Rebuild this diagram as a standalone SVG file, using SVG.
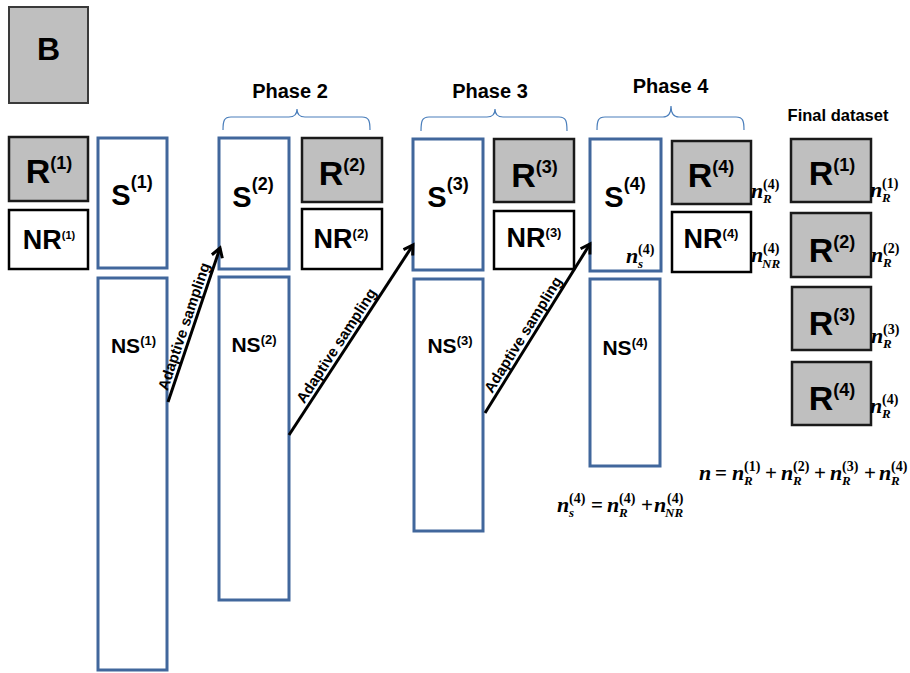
<svg xmlns="http://www.w3.org/2000/svg" width="910" height="673" viewBox="0 0 910 673">
  <style>
    .grey { fill: #bfbfbf; stroke: #1a1a1a; stroke-width: 2.5; }
    .white { fill: #ffffff; stroke: #000000; stroke-width: 2.5; }
    .panel { fill: #bfbfbf; stroke: #3a3a3a; stroke-width: 2; }
    .blue { fill: #ffffff; stroke: #41679c; stroke-width: 3; }
    .brace { fill: none; stroke: #4a7ebb; stroke-width: 1.2; }
    .lbl { font-family: "Liberation Sans", Arial, sans-serif; font-weight: bold; fill: #000; text-anchor: middle; }
    .big { font-size: 34px; }
    .s { font-size: 29px; }
    .nr { font-size: 27px; }
    .ns { font-size: 21px; }
    .head { font-size: 20px; }
    .arr { font-family: "Liberation Sans", Arial, sans-serif; font-weight: bold; font-size: 15px; fill: #000; }
    .mi { font-family: "Liberation Serif", "Times New Roman", serif; font-weight: bold; font-style: italic; font-size: 22px; fill: #000; }
    .mu { font-family: "Liberation Serif", "Times New Roman", serif; font-weight: bold; font-size: 21px; fill: #000; }
    .sp { font-family: "Liberation Serif", "Times New Roman", serif; font-weight: bold; font-size: 14px; fill: #000; }
    .sb { font-family: "Liberation Serif", "Times New Roman", serif; font-weight: bold; font-style: italic; font-size: 13px; fill: #000; }
    .conn { stroke: #000; stroke-width: 3; fill: none; marker-end: url(#head); }
  </style>
  <defs>
    <marker id="head" markerUnits="userSpaceOnUse" viewBox="-12 -8 16 16" markerWidth="16" markerHeight="16" refX="0" refY="0" orient="auto">
      <path d="M-9,-5.5 L0,0 L-9,5.5" fill="none" stroke="#000" stroke-width="3" stroke-linejoin="miter"/>
    </marker>
  </defs>

  <!-- panel letter -->
  <g id="panel-b">
    <rect class="panel" x="9" y="7" width="79" height="96"/>
    <text class="lbl" x="48.5" y="60" font-size="32">B</text>
  </g>

  <!-- phase 1 -->
  <g id="r1">
    <rect class="grey" x="9" y="137" width="79" height="64"/>
    <text class="lbl big" x="49" y="183">R<tspan font-size="18" dy="-14">(1)</tspan></text>
  </g>
  <g id="nr1">
    <rect class="white" x="9" y="210" width="79" height="59"/>
    <text class="lbl nr" x="49" y="249">NR<tspan font-size="11" dy="-10">(1)</tspan></text>
  </g>
  <g id="s1">
    <rect class="blue" x="98" y="138" width="69" height="130"/>
    <text class="lbl s" x="132" y="205">S<tspan font-size="18" dy="-17">(1)</tspan></text>
  </g>
  <g id="ns1">
    <rect class="blue" x="98" y="278" width="69" height="392"/>
    <text class="lbl ns" x="133.5" y="353">NS<tspan font-size="13" dy="-8.5">(1)</tspan></text>
  </g>

  <!-- phase 2 -->
  <g id="phase2">
    <text class="lbl head" x="290" y="98">Phase 2</text>
    <path class="brace" d="M223,130 C223,121 224,117 231,117 L289,117 C294,117 297,114 297,109 C297,114 300,117 305,117 L362,117 C369,117 370,121 370,130"/>
  </g>
  <g id="s2">
    <rect class="blue" x="219" y="138" width="70" height="131"/>
    <text class="lbl s" x="253" y="207">S<tspan font-size="18" dy="-17">(2)</tspan></text>
  </g>
  <g id="ns2">
    <rect class="blue" x="219" y="277" width="70" height="323"/>
    <text class="lbl ns" x="254" y="352">NS<tspan font-size="13" dy="-8.5">(2)</tspan></text>
  </g>
  <g id="r2">
    <rect class="grey" x="302" y="138" width="80" height="64"/>
    <text class="lbl big" x="342" y="185">R<tspan font-size="18" dy="-14">(2)</tspan></text>
  </g>
  <g id="nr2">
    <rect class="white" x="302" y="209" width="80" height="60"/>
    <text class="lbl nr" x="341" y="248">NR<tspan font-size="13" dy="-10.5">(2)</tspan></text>
  </g>

  <!-- phase 3 -->
  <g id="phase3">
    <text class="lbl head" x="490" y="98">Phase 3</text>
    <path class="brace" d="M421,131 C421,121 422,117 429,117 L487,117 C492,117 495,114 495,109 C495,114 498,117 503,117 L559,117 C566,117 567,121 567,131"/>
  </g>
  <g id="s3">
    <rect class="blue" x="413" y="139" width="70" height="131"/>
    <text class="lbl s" x="448" y="207">S<tspan font-size="18" dy="-17">(3)</tspan></text>
  </g>
  <g id="ns3">
    <rect class="blue" x="414" y="279" width="69" height="252"/>
    <text class="lbl ns" x="450" y="353">NS<tspan font-size="13" dy="-8.5">(3)</tspan></text>
  </g>
  <g id="r3">
    <rect class="grey" x="494" y="139" width="80" height="63"/>
    <text class="lbl big" x="534.5" y="187">R<tspan font-size="18" dy="-14">(3)</tspan></text>
  </g>
  <g id="nr3">
    <rect class="white" x="494" y="211" width="80" height="58"/>
    <text class="lbl nr" x="534" y="247">NR<tspan font-size="13" dy="-10.5">(3)</tspan></text>
  </g>

  <!-- phase 4 -->
  <g id="phase4">
    <text class="lbl head" x="670.5" y="93">Phase 4</text>
    <path class="brace" d="M597,130 C597,121 598,117 605,117 L663,117 C668,117 671,114 671,106 C671,114 674,117 679,117 L736,117 C743,117 744,121 744,130"/>
  </g>
  <g id="s4">
    <rect class="blue" x="590" y="139" width="71" height="132"/>
    <text class="lbl s" x="625" y="207">S<tspan font-size="18" dy="-17">(4)</tspan></text>
    <text class="mi" x="626" y="263">n</text>
    <text class="sp" x="638" y="254">(4)</text>
    <text class="sb" x="638" y="268">s</text>
  </g>
  <g id="ns4">
    <rect class="blue" x="590" y="279" width="70" height="187"/>
    <text class="lbl ns" x="625" y="355">NS<tspan font-size="13" dy="-8.5">(4)</tspan></text>
  </g>
  <g id="r4">
    <rect class="grey" x="672" y="141" width="79" height="63"/>
    <text class="lbl big" x="711" y="187">R<tspan font-size="18" dy="-14">(4)</tspan></text>
    <text class="mi" x="751" y="198">n</text>
    <text class="sp" x="763" y="189">(4)</text>
    <text class="sb" x="763" y="203">R</text>
  </g>
  <g id="nr4">
    <rect class="white" x="672" y="212" width="79" height="60"/>
    <text class="lbl nr" x="711" y="248">NR<tspan font-size="13" dy="-10.5">(4)</tspan></text>
    <text class="mi" x="751" y="262">n</text>
    <text class="sp" x="763" y="253">(4)</text>
    <text class="sb" x="762" y="268">NR</text>
  </g>

  <!-- final dataset -->
  <g id="final">
    <text class="lbl" x="838" y="121" font-size="16.5">Final dataset</text>
  </g>
  <g id="fr1">
    <rect class="grey" x="791" y="139" width="80" height="63"/>
    <text class="lbl big" x="832" y="185">R<tspan font-size="18" dy="-14">(1)</tspan></text>
    <text class="mi" x="870" y="197">n</text>
    <text class="sp" x="882" y="188">(1)</text>
    <text class="sb" x="882" y="202">R</text>
  </g>
  <g id="fr2">
    <rect class="grey" x="791" y="213" width="80" height="64"/>
    <text class="lbl big" x="832" y="262">R<tspan font-size="18" dy="-14">(2)</tspan></text>
    <text class="mi" x="871" y="262">n</text>
    <text class="sp" x="883" y="253">(2)</text>
    <text class="sb" x="883" y="267">R</text>
  </g>
  <g id="fr3">
    <rect class="grey" x="792" y="287" width="79" height="63"/>
    <text class="lbl big" x="832" y="335">R<tspan font-size="18" dy="-14">(3)</tspan></text>
    <text class="mi" x="871" y="343">n</text>
    <text class="sp" x="883" y="334">(3)</text>
    <text class="sb" x="883" y="348">R</text>
  </g>
  <g id="fr4">
    <rect class="grey" x="792" y="362" width="79" height="63"/>
    <text class="lbl big" x="832" y="410">R<tspan font-size="18" dy="-14">(4)</tspan></text>
    <text class="mi" x="870" y="413">n</text>
    <text class="sp" x="882" y="404">(4)</text>
    <text class="sb" x="882" y="418">R</text>
  </g>

  <!-- totals -->
  <g id="total">
    <text class="mi" x="699" y="480">n</text>
    <text class="mu" x="715" y="480">=</text>
    <text class="mi" x="732" y="480">n</text>
    <text class="sp" x="744" y="471">(1)</text>
    <text class="sb" x="744" y="485">R</text>
    <text class="mu" x="765" y="480">+</text>
    <text class="mi" x="781" y="480">n</text>
    <text class="sp" x="793" y="471">(2)</text>
    <text class="sb" x="793" y="485">R</text>
    <text class="mu" x="814" y="480">+</text>
    <text class="mi" x="830" y="480">n</text>
    <text class="sp" x="842" y="471">(3)</text>
    <text class="sb" x="842" y="485">R</text>
    <text class="mu" x="864" y="480">+</text>
    <text class="mi" x="879" y="480">n</text>
    <text class="sp" x="891" y="471">(4)</text>
    <text class="sb" x="891" y="485">R</text>
  </g>
  <g id="phase4-total">
    <text class="mi" x="557" y="512">n</text>
    <text class="sp" x="569" y="503">(4)</text>
    <text class="sb" x="569" y="517">s</text>
    <text class="mu" x="591" y="512">=</text>
    <text class="mi" x="607" y="512">n</text>
    <text class="sp" x="619" y="503">(4)</text>
    <text class="sb" x="619" y="517">R</text>
    <text class="mu" x="641" y="512">+</text>
    <text class="mi" x="654" y="512">n</text>
    <text class="sp" x="667" y="503">(4)</text>
    <text class="sb" x="665" y="517">NR</text>
  </g>

  <!-- adaptive sampling connectors -->
  <g id="connectors">
    <line class="conn" x1="168" y1="402" x2="220" y2="248"/>
    <line class="conn" x1="289" y1="435" x2="413" y2="245"/>
    <line class="conn" x1="485" y1="413" x2="590" y2="244"/>
    <text class="arr" transform="translate(168,402) rotate(-71.34)" x="10" y="-4">Adaptive sampling</text>
    <text class="arr" transform="translate(289,435) rotate(-56.87)" x="34" y="-4">Adaptive sampling</text>
    <text class="arr" transform="translate(485,413) rotate(-58.15)" x="20" y="-4">Adaptive sampling</text>
  </g>
</svg>
